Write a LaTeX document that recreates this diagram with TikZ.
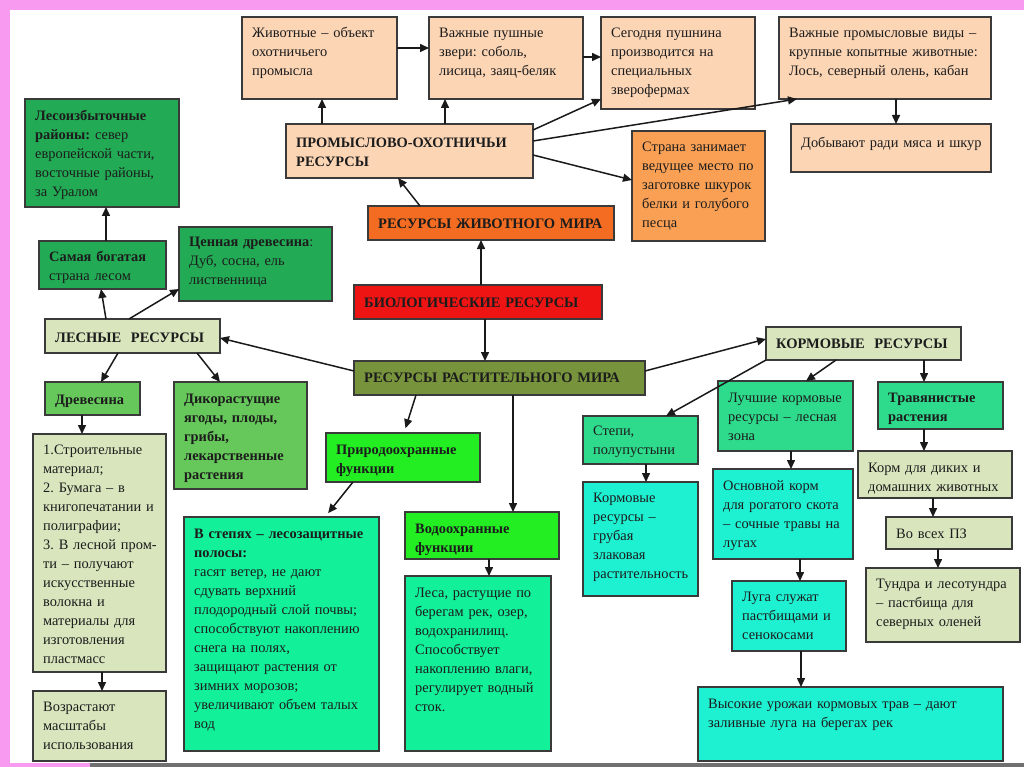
\documentclass[tikz,border=0pt]{standalone}
\usepackage{fontspec}
\setmainfont{Liberation Serif}
\usetikzlibrary{fit,arrows.meta}
\frenchspacing
\definecolor{pinkc}{HTML}{F79AF0}
\definecolor{grayc}{HTML}{707070}
\definecolor{bordc}{HTML}{3A3A3A}
\definecolor{txtc}{HTML}{1C1C1C}
\definecolor{arrc}{HTML}{1A1A1A}
\definecolor{peach}{HTML}{FCD5B5}
\definecolor{orng}{HTML}{F9A055}
\definecolor{dorng}{HTML}{F36C21}
\definecolor{redc}{HTML}{EE1414}
\definecolor{olive}{HTML}{77933C}
\definecolor{lgreen}{HTML}{D8E5BD}
\definecolor{mgreen}{HTML}{22AA55}
\definecolor{ggreen}{HTML}{66C85A}
\definecolor{bgreen}{HTML}{22EE22}
\definecolor{sgreen}{HTML}{12F09A}
\definecolor{tgreen}{HTML}{2EDB8C}
\definecolor{turq}{HTML}{1EF0D2}
\newcommand\hdrf{\fontsize{14.5}{20}\selectfont\bfseries}
\tikzset{
  boxs/.style={draw=bordc, line width=1.2pt, inner sep=0pt, outer sep=0pt},
  txt/.style={anchor=base west, inner sep=0pt, text width=330pt, align=left,
    font=\fontsize{14.4}{19}\selectfont\frenchspacing, text=txtc},
  arr/.style={draw=arrc, line width=1.5pt, -{Triangle[length=9pt,width=8pt]}},
}
\newcommand\bx[8][21]{%
  \node[boxs,fill=#7,fit={(#3,#4)(#5,#6)}] (#2) {};
  \node[txt] (#2t) at ([xshift=10pt,yshift=-#1pt]#2.north west) {#8};
}
\begin{document}
\begin{tikzpicture}[x=1pt,y=-1pt]
\useasboundingbox (0,0) rectangle (1024,767);
\fill[white] (0,0) rectangle (1024,767);
\fill[pinkc] (0,0) rectangle (1024,10);
\fill[pinkc] (0,0) rectangle (10,767);
\fill[grayc] (90,763) rectangle (1024,767);
\fill[pinkc] (10,763) rectangle (90,767);

% animal branch
\bx{zhiv}{242}{17}{397}{99}{peach}{Животные – объект\\охотничьего\\промысла}
\bx{vpush}{429}{17}{583}{99}{peach}{Важные пушные\\звери: соболь,\\лисица, заяц-беляк}
\bx{seg}{601}{17}{755}{109}{peach}{Сегодня пушнина\\производится на\\специальных\\зверофермах}
\bx{vprom}{779}{17}{991}{99}{peach}{Важные промысловые виды –\\крупные копытные животные:\\Лось, северный олень, кабан}
\bx[24]{dob}{791}{124}{991}{172}{peach}{Добывают ради мяса и шкур}
\bx[24]{pr}{286}{124}{533}{178}{peach}{\textbf{ПРОМЫСЛОВО-ОХОТНИЧЬИ\\РЕСУРСЫ}}
\bx{strana}{632}{131}{765}{241}{orng}{Страна занимает\\ведущее место по\\заготовке шкурок\\белки и голубого\\песца}
\bx[23]{zhivres}{368}{206}{614}{240}{dorng}{{\hdrf РЕСУРСЫ ЖИВОТНОГО МИРА}}
\bx[22]{bio}{354}{285}{602}{319}{redc}{{\hdrf БИОЛОГИЧЕСКИЕ РЕСУРСЫ}}
\bx[21]{rast}{354}{361}{645}{395}{olive}{{\hdrf РЕСУРСЫ РАСТИТЕЛЬНОГО МИРА}}

% forest branch
\bx[22]{lesizb}{25}{99}{179}{207}{mgreen}{\textbf{Лесоизбыточные}\\\textbf{районы:} север\\европейской части,\\восточные районы,\\за Уралом}
\bx[20]{samaya}{39}{241}{166}{289}{mgreen}{\textbf{Самая богатая}\\страна лесом}
\bx[20]{cen}{179}{227}{332}{301}{mgreen}{\textbf{Ценная древесина}:\\Дуб, сосна, ель\\лиственница}
\bx[23]{les}{45}{319}{220}{353}{lgreen}{{\hdrf ЛЕСНЫЕ\ \ РЕСУРСЫ}}
\bx[22]{drev}{45}{382}{140}{415}{ggreen}{\textbf{Древесина}}
\bx[21]{dikor}{174}{382}{307}{489}{ggreen}{\textbf{Дикорастущие\\ягоды, плоды,\\грибы,\\лекарственные\\растения}}
\bx[20]{stroit}{33}{434}{166}{672}{lgreen}{1.Строительные\\материал;\\2. Бумага – в\\книгопечатании и\\полиграфии;\\3. В лесной пром-\\ти – получают\\искусственные\\волокна и\\материалы для\\изготовления\\пластмасс}
\bx[20]{vozr}{33}{691}{166}{761}{lgreen}{Возрастают\\масштабы\\использования}
\bx[21]{prir}{326}{433}{480}{482}{bgreen}{\textbf{Природоохранные\\функции}}
\bx[21]{vstep}{184}{517}{379}{751}{sgreen}{\textbf{В степях – лесозащитные\\полосы:}\\гасят ветер, не дают\\сдувать верхний\\плодородный слой почвы;\\способствуют накоплению\\снега на полях,\\защищают растения от\\зимних морозов;\\увеличивают объем талых\\вод}
\bx[21]{vodo}{405}{512}{559}{559}{bgreen}{\textbf{Водоохранные\\функции}}
\bx[21]{lesa}{405}{576}{551}{751}{sgreen}{Леса, растущие по\\берегам рек, озер,\\водохранилищ.\\Способствует\\накоплению влаги,\\регулирует водный\\сток.}

% fodder branch
\bx[21]{korm}{766}{327}{961}{360}{lgreen}{{\hdrf КОРМОВЫЕ\ \ РЕСУРСЫ}}
\bx[19]{step}{583}{416}{698}{464}{tgreen}{Степи,\\полупустыни}
\bx[20]{grub}{583}{482}{698}{596}{turq}{Кормовые\\ресурсы –\\грубая\\злаковая\\растительность}
\bx[21]{luch}{718}{381}{853}{451}{tgreen}{Лучшие кормовые\\ресурсы – лесная\\зона}
\bx[20]{trav}{878}{382}{1003}{429}{tgreen}{\textbf{Травянистые\\растения}}
\bx[21]{kdik}{858}{451}{1012}{498}{lgreen}{Корм для диких и\\домашних животных}
\bx[21]{vovseh}{886}{517}{1012}{549}{lgreen}{Во всех ПЗ}
\bx[20]{tundra}{866}{568}{1020}{642}{lgreen}{Тундра и лесотундра\\– пастбища для\\северных оленей}
\bx[21]{osn}{713}{469}{853}{559}{turq}{Основной корм\\для рогатого скота\\– сочные травы на\\лугах}
\bx[20]{luga}{732}{581}{846}{651}{turq}{Луга служат\\пастбищами и\\сенокосами}
\bx[21]{vys}{698}{687}{1003}{761}{turq}{Высокие урожаи кормовых трав – дают\\заливные луга на берегах рек}

% connectors
\draw[arr] (pr.north -| 322,0) -- (zhiv.south -| 322,0);
\draw[arr] (pr.north -| 445,0) -- (vpush.south -| 445,0);
\draw[arr] (zhiv.east |- 0,48) -- (vpush.west |- 0,48);
\draw[arr] (vpush.east |- 0,57) -- (seg.west |- 0,57);
\draw[arr] (pr.east |- 0,130) -- (seg.west |- 0,99);
\draw[arr] (pr.east |- 0,141) -- (vprom.south -| 797,0);
\draw[arr] (pr.east |- 0,155) -- (strana.west |- 0,180);
\draw[arr] (vprom.south -| 896,0) -- (dob.north -| 896,0);
\draw[arr] (zhivres.north -| 420,0) -- (pr.south -| 398,0);
\draw[arr] (bio.north -| 481,0) -- (zhivres.south -| 481,0);
\draw[arr] (bio.south -| 485,0) -- (rast.north -| 485,0);
\draw[arr] (rast.west |- 0,371) -- (les.east |- 0,338);
\draw[arr] (rast.east |- 0,371) -- (korm.west |- 0,339);
\draw[arr,shorten >=5pt] (rast.south -| 416,0) -- (prir.north -| 404,0);
\draw[arr] (rast.south -| 513,0) -- (vodo.north -| 513,0);
\draw[arr] (korm.south west) -- (step.north -| 666,0);
\draw[arr] (korm.south -| 836,0) -- (luch.north -| 806,0);
\draw[arr] (korm.south -| 924,0) -- (trav.north -| 924,0);
\draw[arr] (trav.south -| 924,0) -- (kdik.north -| 924,0);
\draw[arr] (kdik.south -| 933,0) -- (vovseh.north -| 933,0);
\draw[arr] (vovseh.south -| 938,0) -- (tundra.north -| 938,0);
\draw[arr] (luch.south -| 791,0) -- (osn.north -| 791,0);
\draw[arr] (osn.south -| 800,0) -- (luga.north -| 800,0);
\draw[arr] (luga.south -| 801,0) -- (vys.north -| 801,0);
\draw[arr] (step.south -| 646,0) -- (grub.north -| 646,0);
\draw[arr] (les.north -| 106,0) -- (samaya.south -| 101,0);
\draw[arr] (les.north -| 129,0) -- (cen.west |- 0,289);
\draw[arr] (samaya.north -| 106,0) -- (lesizb.south -| 106,0);
\draw[arr] (les.south -| 118,0) -- (drev.north -| 101,0);
\draw[arr] (les.south -| 197,0) -- (dikor.north -| 220,0);
\draw[arr] (drev.south -| 82,0) -- (stroit.north -| 82,0);
\draw[arr] (stroit.south -| 102,0) -- (vozr.north -| 102,0);
\draw[arr,shorten >=5pt] (prir.south -| 353,0) -- (vstep.north -| 325,0);
\draw[arr] (vodo.south -| 489,0) -- (lesa.north -| 489,0);
\end{tikzpicture}
\end{document}
